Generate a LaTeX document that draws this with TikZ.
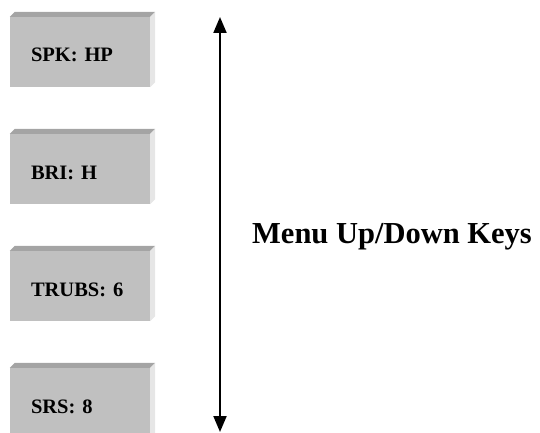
\documentclass[tikz,border=0pt]{standalone}
\usepackage{fontspec}
\setmainfont{Liberation Serif}
\usetikzlibrary{arrows.meta}
\definecolor{facegray}{HTML}{C0C0C0}
\definecolor{topgray}{HTML}{A4A4A4}
\definecolor{sidegray}{HTML}{E6E6E6}
\tikzset{
  keybox/.style={fill=facegray, minimum width=140pt, minimum height=70pt,
    inner xsep=21pt, inner ysep=0pt, text width=98pt, align=left,
    text height=20pt, text depth=0pt,
    font=\bfseries\fontsize{20.5}{24}\selectfont},
  keyarrow/.style={{Triangle[length=16pt,width=13pt]}-{Triangle[length=16pt,width=13pt]}, line width=2pt}
}
\begin{document}
\begin{tikzpicture}[x=1pt,y=1pt]
    \useasboundingbox (0,0) rectangle (540,432);
    % menu entries
    \node[keybox] (spk)   at (80,380) {SPK: HP};
    \node[keybox] (bri)   at (80,263) {BRI: H};
    \node[keybox] (trubs) at (80,146) {TRUBS: 6};
    \node[keybox] (srs)   at (80,29)  {SRS: 8};
    % bevelled edges
    \foreach \n in {spk,bri,trubs,srs}{%
      \fill[topgray] (\n.north west) -- ++(5,5) -- ([shift={(5pt,5pt)}]\n.north east)
        -- (\n.north east) -- cycle;
      \fill[sidegray] (\n.north east) -- ++(5,5) -- ([shift={(5pt,5pt)}]\n.south east)
        -- (\n.south east) -- cycle;}
    % up/down keys
    \coordinate (up) at (220,415);
    \coordinate (down) at (220,0);
    \draw[keyarrow] (down) -- (up);
    \node[anchor=base west, inner sep=0pt, font=\bfseries\fontsize{30.5}{36}\selectfont]
      (keys) at (252,189) {Menu Up/Down Keys};
\end{tikzpicture}
\end{document}
